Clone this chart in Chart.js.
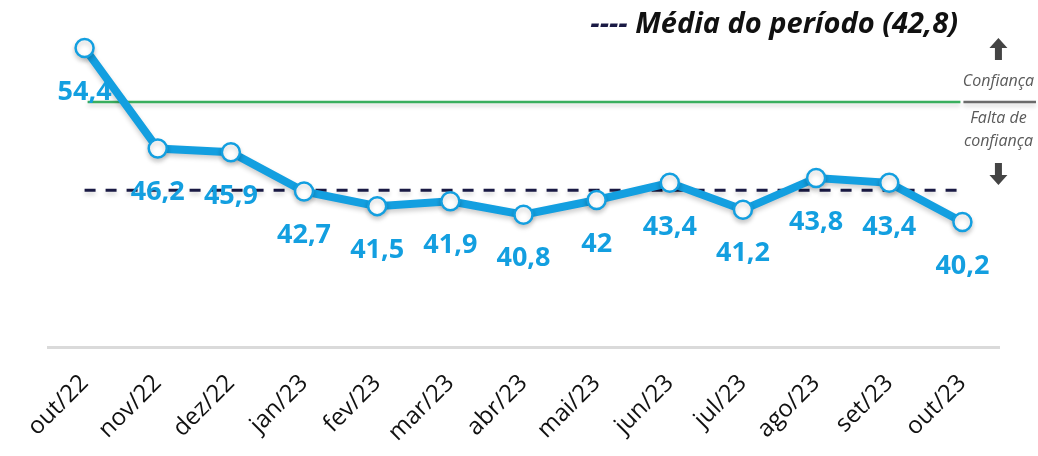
<!DOCTYPE html>
<html>
<head>
<meta charset="utf-8">
<script src="https://cdn.jsdelivr.net/npm/chart.js@4"></script>
<style>
    html, body { margin: 0; padding: 0; background: #fff; }
    #wrap { width: 1038px; height: 456px; position: relative; }
</style>
</head>
<body>
<div id="wrap"><canvas id="chart"></canvas></div>
<script>
const months = ["out/22", "nov/22", "dez/22", "jan/23", "fev/23", "mar/23", "abr/23",
    "mai/23", "jun/23", "jul/23", "ago/23", "set/23", "out/23"];
const confidence = [54.4, 46.2, 45.9, 42.7, 41.5, 41.9, 40.8, 42, 43.4, 41.2, 43.8, 43.4, 40.2];
const periodAverage = 42.8;
const threshold = 50;

const BLUE = "#139fe0";

// reference lines under the series: threshold (green) and period average (dashed)
const refLines = {
    id: "refLines",
    beforeDatasetsDraw(chart) {
        const { ctx, scales: { x, y } } = chart;
        const x0 = x.getPixelForValue(0);
        const x1 = x.getPixelForValue(months.length - 1);
        ctx.save();
        ctx.shadowColor = "rgba(0,0,0,0.18)";
        ctx.shadowBlur = 4;
        ctx.shadowOffsetY = 3;
        ctx.lineWidth = 2.5;
        ctx.strokeStyle = "#3aae5e";
        const yt = y.getPixelForValue(threshold);
        ctx.beginPath();
        ctx.moveTo(x0 + 3, yt);
        ctx.lineTo(x1 - 2, yt);
        ctx.stroke();
        ctx.strokeStyle = "#6b6b6b";
        ctx.beginPath();
        ctx.moveTo(x1 + 1, yt);
        ctx.lineTo(chart.width - 2, yt);
        ctx.stroke();

        ctx.lineWidth = 3;
        ctx.strokeStyle = "#1a1a44";
        ctx.setLineDash([11, 10]);
        const ya = y.getPixelForValue(periodAverage);
        ctx.beginPath();
        ctx.moveTo(x0, ya);
        ctx.lineTo(x1 - 2, ya);
        ctx.stroke();
        ctx.restore();
    },
};

// soft drop shadow under the series line
const lineShadow = {
    id: "lineShadow",
    beforeDatasetDraw(chart) {
        const ctx = chart.ctx;
        ctx.save();
        ctx.shadowColor = "rgba(0,0,0,0.2)";
        ctx.shadowBlur = 5;
        ctx.shadowOffsetY = 3;
    },
    afterDatasetDraw(chart) {
        chart.ctx.restore();
    },
};

// value labels, right side notes and title
const overlay = {
    id: "overlay",
    afterDatasetsDraw(chart) {
        const { ctx, scales: { x, y } } = chart;
        ctx.save();
        ctx.fillStyle = BLUE;
        ctx.font = "bold 27px 'Open Sans'";
        ctx.textAlign = "center";
        ctx.textBaseline = "middle";
        confidence.forEach((v, i) => {
            const px = x.getPixelForValue(i);
            const py = y.getPixelForValue(v);
            ctx.fillText(String(v).replace(".", ","), px, py + 44);
        });

        // side notes
        const cx = x.getPixelForValue(months.length - 1) + 36;
        const yt = y.getPixelForValue(threshold);
        ctx.fillStyle = "#5a5a5a";
        ctx.font = "italic 16px 'Open Sans'";
        ctx.fillText("Confiança", cx, yt - 21);
        ctx.fillText("Falta de", cx, yt + 16);
        ctx.fillText("confiança", cx, yt + 39);

        ctx.fillStyle = "#444";
        const arrow = (ax, ay, dir) => {
            ctx.beginPath();
            ctx.moveTo(ax, ay);
            ctx.lineTo(ax + 9, ay + 10 * dir);
            ctx.lineTo(ax + 3.5, ay + 10 * dir);
            ctx.lineTo(ax + 3.5, ay + 22 * dir);
            ctx.lineTo(ax - 3.5, ay + 22 * dir);
            ctx.lineTo(ax - 3.5, ay + 10 * dir);
            ctx.lineTo(ax - 9, ay + 10 * dir);
            ctx.closePath();
            ctx.fill();
        };
        arrow(cx, yt - 64, 1);
        arrow(cx, yt + 83, -1);

        // title
        ctx.textAlign = "right";
        ctx.font = "bold italic 29px 'Open Sans'";
        const title = " Média do período (" + String(periodAverage).replace(".", ",") + ")";
        const right = 958;
        ctx.fillStyle = "#111";
        ctx.fillText(title, right, 25);
        const w = ctx.measureText(title).width;
        ctx.fillStyle = "#1a1a44";
        ctx.fillText("----", right - w, 25);
        ctx.restore();
    },
};

new Chart(document.getElementById("chart"), {
    type: "line",
    data: {
        labels: months,
        datasets: [
            {
                data: confidence,
                borderColor: BLUE,
                borderWidth: 8,
                tension: 0,
                pointRadius: 9,
                pointBackgroundColor: "#fff",
                pointBorderColor: BLUE,
                pointBorderWidth: 2.5,
            },
        ],
    },
    options: {
        responsive: true,
        maintainAspectRatio: false,
        animation: false,
        layout: { autoPadding: false, padding: { left: 48, right: 39, top: 4, bottom: 0 } },
        plugins: {
            legend: { display: false },
            tooltip: { enabled: false },
        },
        scales: {
            x: {
                offset: true,
                grid: { display: false },
                border: { display: true, color: "#dadada", width: 3 },
                ticks: {
                    color: "#111",
                    font: { family: "'Open Sans'", size: 24 },
                    minRotation: 45,
                    maxRotation: 45,
                    padding: 14,
                },
                afterFit: (scale) => {
                    scale.height = 109;
                },
            },
            y: {
                display: false,
                min: 30,
                max: 58,
            },
        },
    },
    plugins: [refLines, lineShadow, overlay],
});
</script>
</body>
</html>
